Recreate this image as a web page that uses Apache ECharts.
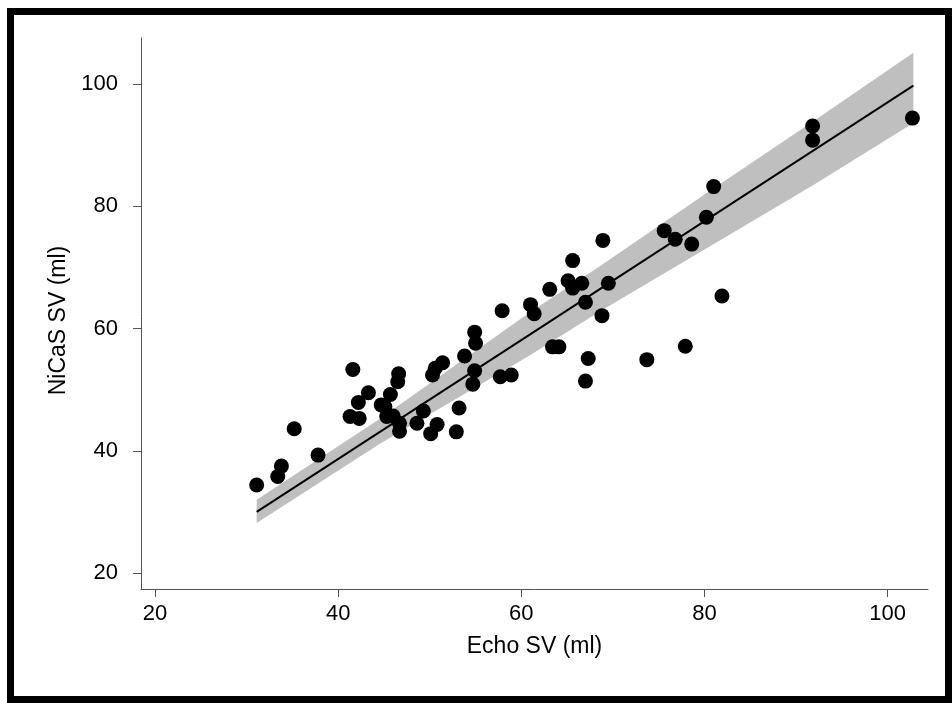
<!DOCTYPE html>
<html>
<head>
<meta charset="utf-8">
<script src="https://cdn.jsdelivr.net/npm/echarts@6/dist/echarts.min.js"></script>
<style>
  html, body { margin: 0; padding: 0; background: #fff; }
  #chart { position: absolute; left: 0; top: 0; width: 952px; height: 703px; }
  #frame { position: absolute; left: 7px; top: 8px; width: 931px; height: 681px; border: 7px solid #000; pointer-events: none; }
</style>
</head>
<body>
<div id="chart"></div>
<div id="frame"></div>
<script>
// Echo SV (ml) vs NiCaS SV (ml)
const echoSV = [31.1, 33.4, 33.8, 35.2, 37.8, 41.3, 41.6, 42.2, 42.3, 43.3,
  44.7, 45.1, 45.3, 45.7, 46.0, 46.6, 46.5, 46.7, 46.7, 48.6,
  49.3, 50.1, 50.8, 50.3, 50.6, 51.4, 52.9, 53.2, 53.8, 54.7,
  54.9, 54.9, 55.0, 57.7, 58.9, 57.9, 61.0, 61.4, 63.1, 63.4,
  64.1, 65.1, 65.6, 65.6, 66.6, 67.0, 67.0, 67.3, 68.8, 68.9,
  69.5, 73.7, 75.6, 76.8, 77.9, 78.6, 80.2, 81.0, 81.9, 91.8,
  91.8, 102.7];
const nicasSV = [34.4, 35.8, 37.5, 43.6, 39.3, 45.6, 53.3, 47.9, 45.3, 49.5,
  47.5, 47.2, 45.6, 49.2, 45.7, 52.6, 51.3, 44.5, 43.2, 44.5,
  46.5, 42.8, 44.3, 52.4, 53.5, 54.4, 43.1, 47.0, 55.5, 50.9,
  53.1, 59.4, 57.6, 52.1, 52.4, 62.9, 63.9, 62.4, 66.4, 57.0,
  57.0, 67.8, 71.1, 66.6, 67.4, 64.3, 51.4, 55.1, 62.1, 74.4,
  67.4, 54.9, 76.0, 74.6, 57.1, 73.8, 78.2, 83.2, 65.3, 93.1,
  90.8, 94.4];

// fitted line end points
const fitX = [31.1, 102.8];
const fitY = [30.0, 99.7];

// confidence band
const bandX    = [31.1, 44.6, 60.9, 68.6, 80.0, 91.8, 102.8];
const bandLow  = [28.2, 41.2, 55.6, 62.8, 72.9, 83.4, 93.6];
const bandHigh = [32.0, 45.3, 62.6, 70.2, 81.9, 93.8, 105.1];

const xTicks = [20, 40, 60, 80, 100];
const yTicks = [20, 40, 60, 80, 100];

const FONT = 'Liberation Sans, Arial, sans-serif';

const chart = echarts.init(document.getElementById('chart'), null, { renderer: 'canvas' });

const scatterData = echoSV.map((x, i) => [x, nicasSV[i]]);
const lineData = fitX.map((x, i) => [x, fitY[i]]);
const bandData = bandX.map((x, i) => [x, bandLow[i], bandHigh[i]]);

const axisCommon = {
  type: 'value',
  axisLine: { show: true, onZero: false, lineStyle: { color: '#555', width: 1 } },
  axisTick: { show: true, inside: false, length: 8, lineStyle: { color: '#555', width: 1 } },
  splitLine: { show: false },
  nameLocation: 'middle',
  nameTextStyle: { fontFamily: FONT, fontSize: 23, color: '#000' }
};

chart.setOption({
  animation: false,
  backgroundColor: 'transparent',
  grid: { left: 141, right: 24, top: 38, bottom: 114, containLabel: false },
  xAxis: Object.assign({}, axisCommon, {
    min: 18.47, max: 104.4,
    name: 'Echo SV (ml)',
    nameGap: 46,
    axisTick: Object.assign({}, axisCommon.axisTick, { customValues: xTicks }),
    axisLabel: { customValues: xTicks, fontFamily: FONT, fontSize: 22, color: '#000', margin: 14 }
  }),
  yAxis: Object.assign({}, axisCommon, {
    min: 17.4, max: 107.5,
    name: 'NiCaS SV (ml)',
    nameGap: 63,
    nameRotate: 90,
    nameTextStyle: Object.assign({}, axisCommon.nameTextStyle, { padding: [0, 14, 0, 0] }),
    axisTick: Object.assign({}, axisCommon.axisTick, { customValues: yTicks }),
    axisLabel: { customValues: yTicks, fontFamily: FONT, fontSize: 22, color: '#000', margin: 23 }
  }),
  series: [
    {
      type: 'custom',
      data: [0],
      silent: true,
      z: 1,
      renderItem: function (params, api) {
        const upper = bandData.map(d => api.coord([d[0], d[2]]));
        const lower = bandData.slice().reverse().map(d => api.coord([d[0], d[1]]));
        return {
          type: 'polygon',
          shape: { points: upper.concat(lower) },
          style: { fill: '#bfbfbf', stroke: null }
        };
      }
    },
    {
      type: 'line', data: lineData, symbol: 'none',
      lineStyle: { color: '#000', width: 2 }, silent: true, z: 2
    },
    {
      type: 'scatter', data: scatterData, symbol: 'circle', symbolSize: 15,
      itemStyle: { color: '#000', opacity: 1 }, silent: true, z: 3
    }
  ]
});
</script>
</body>
</html>
